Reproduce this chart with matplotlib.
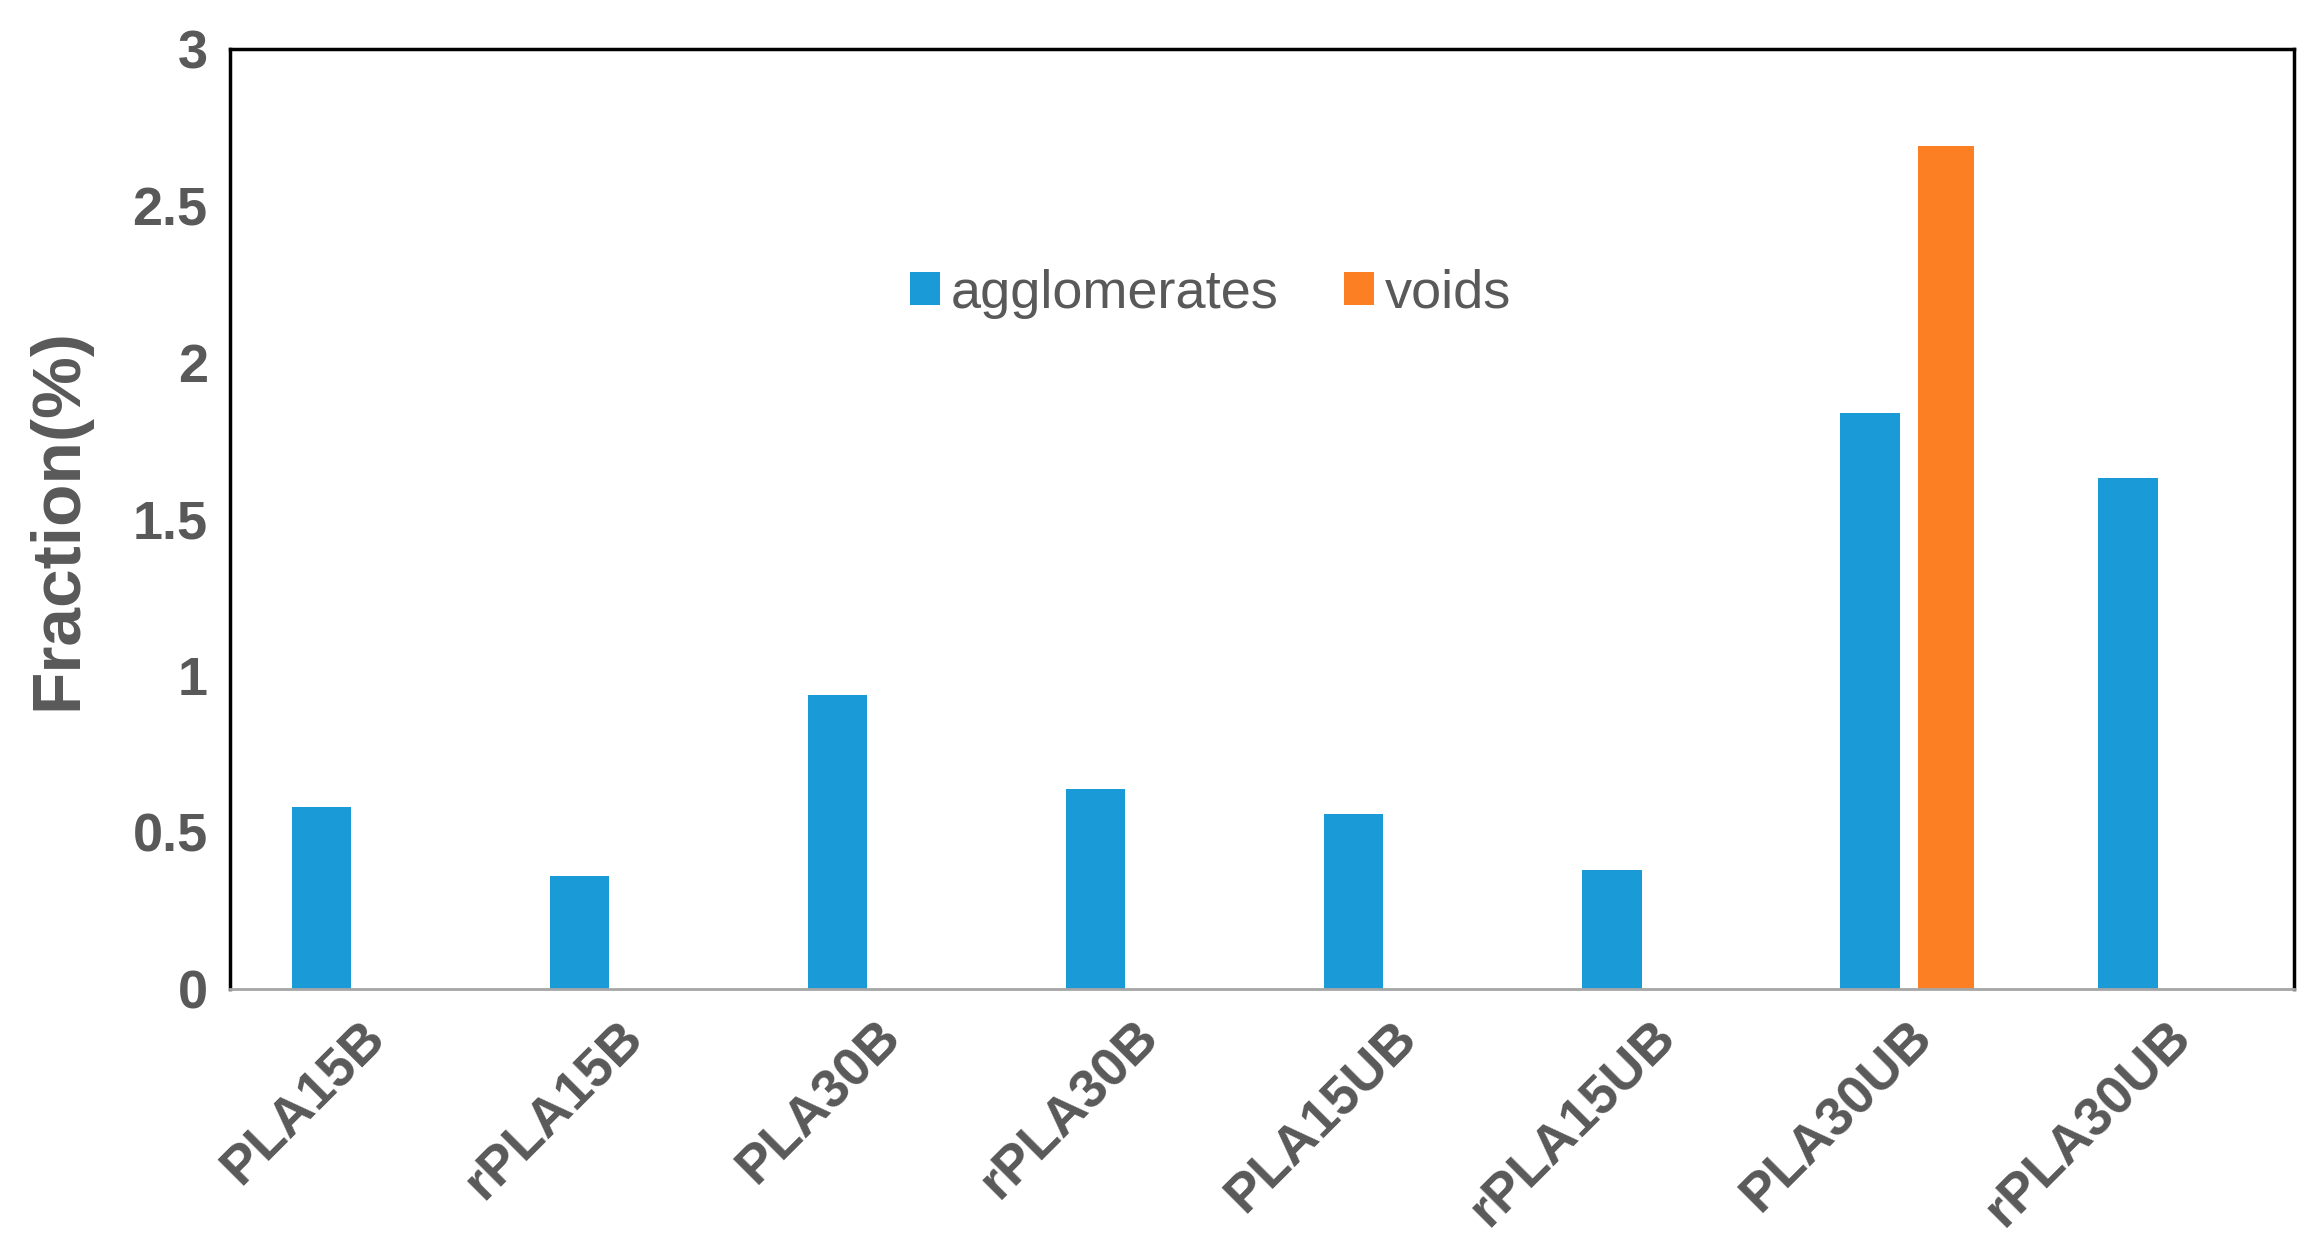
import matplotlib.pyplot as plt
import numpy as np

plt.rcParams['font.family'] = ['Liberation Sans', 'DejaVu Sans']

categories = ["PLA15B", "rPLA15B", "PLA30B", "rPLA30B", "PLA15UB", "rPLA15UB", "PLA30UB", "rPLA30UB"]
agglomerates = [0.58, 0.36, 0.94, 0.64, 0.56, 0.38, 1.84, 1.63]
voids = [0, 0, 0, 0, 0, 0, 2.69, 0]

grey = "#595959"
fig = plt.figure(figsize=(23.13, 12.6), dpi=100)
ax = fig.add_axes([0.0994, 0.215, 0.8926, 0.746])

x = np.arange(len(categories))
ax.bar(x - 0.145, agglomerates, width=0.23, color="#1a9bd7", label="agglomerates")
ax.bar(x + 0.15, voids, width=0.22, color="#fd7f23", label="voids")

ax.set_xlim(-0.5, len(categories) - 0.5)
ax.set_ylim(0, 3)
ax.set_yticks([0, 0.5, 1, 1.5, 2, 2.5, 3])
ax.set_yticklabels(["0", "0.5", "1", "1.5", "2", "2.5", "3"])
ax.set_xticks(x)
ax.set_xticklabels(categories, rotation=45, ha="right", rotation_mode="anchor")
ax.tick_params(axis="both", length=0, labelsize=39, labelcolor=grey, pad=16)
for lab in ax.get_xticklabels() + ax.get_yticklabels():
    lab.set_fontweight("bold")
ax.set_ylabel("Fraction(%)", fontsize=50, fontweight="bold", color=grey, labelpad=30)

for s in ["left", "top", "right"]:
    ax.spines[s].set_color("black")
    ax.spines[s].set_linewidth(2.5)
ax.spines["bottom"].set_color("#a6a6a6")
ax.spines["bottom"].set_linewidth(2)

leg = ax.legend(loc="center", bbox_to_anchor=(0.475, 0.74), ncol=2, frameon=False,
                fontsize=39, handlelength=0.55, handleheight=0.55, handletextpad=0.2,
                columnspacing=1.2)
for t in leg.get_texts():
    t.set_color(grey)

fig.savefig("out.png", dpi=100, facecolor="white")
